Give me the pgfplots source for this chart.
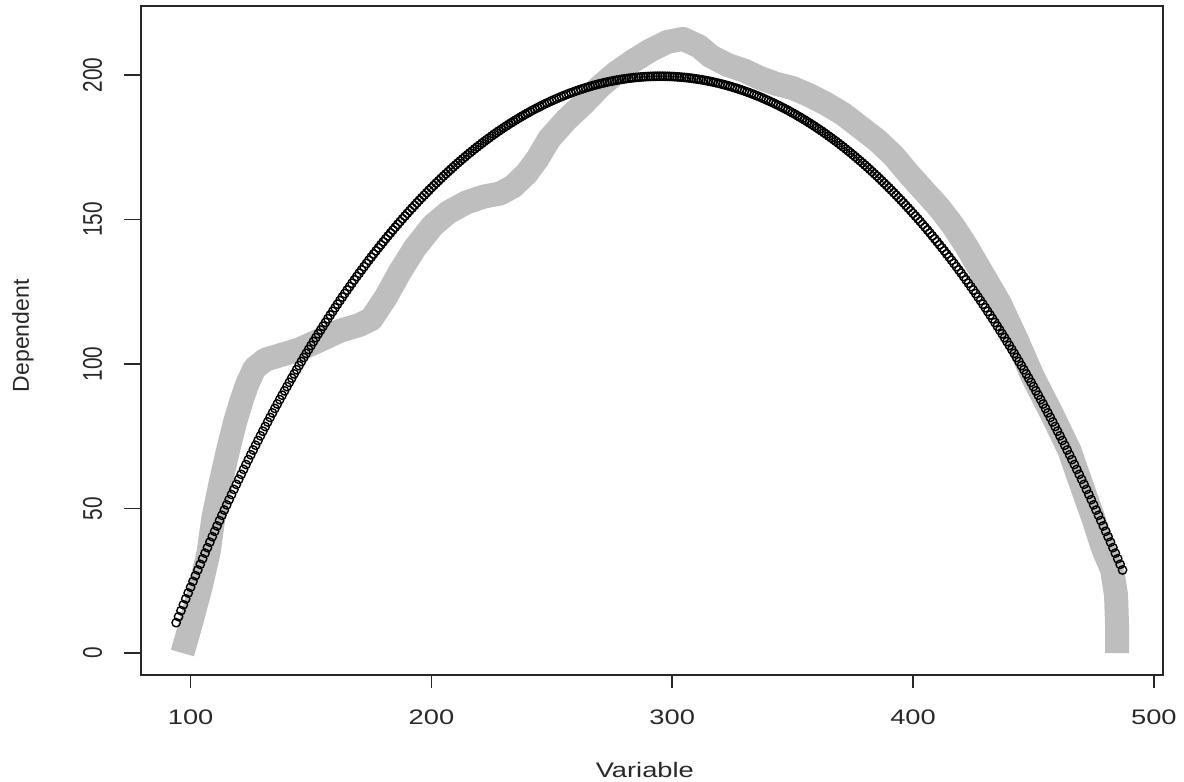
\documentclass[border=0pt]{standalone}
\usepackage{fontspec}
\setmainfont{Liberation Sans}
\newfontfamily\wide{Liberation Sans}[FakeStretch=1.3]
\newfontfamily\narrowf{Liberation Sans}[FakeStretch=0.77]
\usepackage{pgfplots}
\pgfplotsset{compat=1.18}
\definecolor{band}{RGB}{190,190,190}
\definecolor{axc}{RGB}{40,40,40}
\begin{document}
\begin{tikzpicture}
\begin{axis}[
 name=ax, scale only axis, width=511pt, height=334.5pt,
 xmin=79.4, xmax=503.8, ymin=-7.6, ymax=223.9,
 axis line style={axc, line width=0.8pt},
 xtick={100,200,300,400,500}, ytick={0,50,100,150,200},
 tick align=outside, xtick pos=bottom, ytick pos=left,
 xtick style={axc, line width=0.8pt, /pgfplots/major tick length=6.5pt},
 ytick style={axc, line width=0.8pt, /pgfplots/major tick length=8.5pt},
 /pgf/number format/assume math mode=true,
 xticklabel style={font=\wide\fontsize{10.5}{12}\selectfont, text=axc, anchor=north, inner sep=0pt},
 xticklabel shift=12.75pt,
 yticklabel style={font=\narrowf\fontsize{13.5}{14}\selectfont, text=axc, rotate=90, anchor=south, inner sep=0pt},
 yticklabel shift=15pt,
 xlabel={Variable}, ylabel={Dependent},
 every axis x label/.style={at={(axis description cs:0.493,-0.142)}, anchor=center, font=\wide\fontsize{10.5}{12}\selectfont, text=axc},
 every axis y label/.style={at={(axis description cs:-0.1155,0.507)}, rotate=90, anchor=center, font=\fontsize{11.5}{13}\selectfont, text=axc},
]
\addplot[color=band, line width=12pt, line join=round, no markers] coordinates {
(96.6,0) (100.5,11.4) (104.5,24) (107.5,35) (109.5,47) (112.5,59) (115.5,70) (118.5,80) (121,87) (123.5,93) (126.5,98.5) (131,101.5) (137,103) (145,105) (153,108) (162,111.5) (170,113.5) (175,115.5) (181,123) (187,132) (193,140) (200.6,148) (207,152.5) (214.7,156) (222,158) (228.5,159) (234,161.5) (239.6,166) (244,171) (249,178) (256,184.5) (263,190) (270,196) (277,201) (284,205) (290.8,208.5) (298,211.5) (304.5,212.5) (311,210) (316,206.5) (323,203.5) (330,201.5) (336.4,199) (343,197) (350,195.5) (357,193) (364,190) (371,186.5) (378,182) (385,177.5) (392,172) (398,166) (405,159.5) (411,154) (416.5,148) (422,141) (429,131) (436,121) (443,108.5) (449.8,95.5) (457.5,83) (465,70) (470,58) (474.7,47) (479,36) (482.7,28.7) (484.3,20) (484.7,10) (484.7,0)
};
\addplot[only marks, mark=o, mark size=2.1pt, mark options={line width=0.7pt, draw=black}] coordinates {
(94,10.51) (95,12.59) (96,14.66) (97,16.71) (98,18.75) (99,20.78) (100,22.79) (101,24.79) (102,26.77) (103,28.74) (104,30.69) (105,32.63) (106,34.56) (107,36.47) (108,38.37) (109,40.26) (110,42.13) (111,43.99) (112,45.83) (113,47.66) (114,49.48) (115,51.28) (116,53.07) (117,54.85) (118,56.62) (119,58.37) (120,60.11) (121,61.83) (122,63.54) (123,65.24) (124,66.93) (125,68.60) (126,70.26) (127,71.91) (128,73.55) (129,75.17) (130,76.78) (131,78.38) (132,79.96) (133,81.54) (134,83.10) (135,84.64)
(136,86.18) (137,87.70) (138,89.22) (139,90.72) (140,92.20) (141,93.68) (142,95.14) (143,96.59) (144,98.03) (145,99.46) (146,100.88) (147,102.28) (148,103.67) (149,105.05) (150,106.42) (151,107.78) (152,109.13) (153,110.46) (154,111.78) (155,113.10) (156,114.40) (157,115.69) (158,116.96) (159,118.23) (160,119.49) (161,120.73) (162,121.96) (163,123.19) (164,124.40) (165,125.60) (166,126.79) (167,127.97) (168,129.13) (169,130.29) (170,131.44) (171,132.57) (172,133.70) (173,134.81) (174,135.91) (175,137.01) (176,138.09) (177,139.16) (178,140.22) (179,141.27) (180,142.31) (181,143.34) (182,144.36) (183,145.37) (184,146.37) (185,147.36) (186,148.34) (187,149.31) (188,150.27) (189,151.22) (190,152.15) (191,153.08) (192,154.00) (193,154.91) (194,155.81) (195,156.70) (196,157.58) (197,158.44) (198,159.30) (199,160.15) (200,160.99)
(201,161.82) (202,162.64) (203,163.45) (204,164.25) (205,165.05) (206,165.83) (207,166.60) (208,167.36) (209,168.12) (210,168.86) (211,169.59) (212,170.32) (213,171.03) (214,171.74) (215,172.44) (216,173.13) (217,173.80) (218,174.47) (219,175.13) (220,175.78) (221,176.42) (222,177.06) (223,177.68) (224,178.29) (225,178.90) (226,179.49) (227,180.08) (228,180.66) (229,181.23) (230,181.79) (231,182.34) (232,182.88) (233,183.41) (234,183.94) (235,184.45) (236,184.96) (237,185.45) (238,185.94) (239,186.42) (240,186.89) (241,187.35) (242,187.81) (243,188.25) (244,188.69) (245,189.11) (246,189.53) (247,189.94) (248,190.34) (249,190.74) (250,191.12) (251,191.49) (252,191.86) (253,192.22) (254,192.57) (255,192.91) (256,193.24) (257,193.56) (258,193.88) (259,194.18) (260,194.48) (261,194.77) (262,195.05) (263,195.32) (264,195.59) (265,195.84) (266,196.09) (267,196.33) (268,196.56) (269,196.78) (270,196.99) (271,197.20) (272,197.39) (273,197.58) (274,197.76) (275,197.93) (276,198.10) (277,198.25) (278,198.40) (279,198.53) (280,198.66) (281,198.78) (282,198.90) (283,199.00) (284,199.10) (285,199.18) (286,199.26) (287,199.33) (288,199.40) (289,199.45) (290,199.50) (291,199.53) (292,199.56) (293,199.58) (294,199.60) (295,199.60)
(296,199.60) (297,199.58) (298,199.56) (299,199.53) (300,199.50) (301,199.45) (302,199.40) (303,199.33) (304,199.26) (305,199.18) (306,199.10) (307,199.00) (308,198.90) (309,198.78) (310,198.66) (311,198.53) (312,198.40) (313,198.25) (314,198.10) (315,197.93) (316,197.76) (317,197.58) (318,197.39) (319,197.20) (320,196.99) (321,196.78) (322,196.56) (323,196.33) (324,196.09) (325,195.84) (326,195.59) (327,195.32) (328,195.05) (329,194.77) (330,194.48) (331,194.18) (332,193.88) (333,193.56) (334,193.24) (335,192.91) (336,192.57) (337,192.22) (338,191.86) (339,191.49) (340,191.12) (341,190.74) (342,190.34) (343,189.94) (344,189.53) (345,189.11) (346,188.69) (347,188.25) (348,187.81) (349,187.35) (350,186.89) (351,186.42) (352,185.94) (353,185.45) (354,184.96) (355,184.45) (356,183.94) (357,183.41) (358,182.88) (359,182.34) (360,181.79) (361,181.23) (362,180.66) (363,180.08) (364,179.49) (365,178.90) (366,178.29) (367,177.68) (368,177.06) (369,176.42) (370,175.78) (371,175.13) (372,174.47) (373,173.80) (374,173.13) (375,172.44) (376,171.74) (377,171.03) (378,170.32) (379,169.59) (380,168.86) (381,168.12) (382,167.36) (383,166.60) (384,165.83) (385,165.05) (386,164.25) (387,163.45) (388,162.64) (389,161.82) (390,160.99)
(391,160.15) (392,159.30) (393,158.44) (394,157.58) (395,156.70) (396,155.81) (397,154.91) (398,154.00) (399,153.08) (400,152.15) (401,151.22) (402,150.27) (403,149.31) (404,148.34) (405,147.36) (406,146.37) (407,145.37) (408,144.36) (409,143.34) (410,142.31) (411,141.27) (412,140.22) (413,139.16) (414,138.09) (415,137.01) (416,135.91) (417,134.81) (418,133.70) (419,132.57) (420,131.44) (421,130.29) (422,129.13) (423,127.97) (424,126.79) (425,125.60) (426,124.40) (427,123.19) (428,121.96) (429,120.73) (430,119.49) (431,118.23) (432,116.96) (433,115.69) (434,114.40) (435,113.10) (436,111.78) (437,110.46) (438,109.13) (439,107.78) (440,106.42) (441,105.05) (442,103.67) (443,102.28) (444,100.88) (445,99.46) (446,98.03) (447,96.59) (448,95.14) (449,93.68) (450,92.20) (451,90.72) (452,89.22) (453,87.70) (454,86.18)
(455,84.64) (456,83.10) (457,81.54) (458,79.96) (459,78.38) (460,76.78) (461,75.17) (462,73.55) (463,71.91) (464,70.26) (465,68.60) (466,66.93) (467,65.24) (468,63.54) (469,61.83) (470,60.11) (471,58.37) (472,56.62) (473,54.85) (474,53.07) (475,51.28) (476,49.48) (477,47.66) (478,45.83) (479,43.99) (480,42.13) (481,40.26) (482,38.37) (483,36.47) (484,34.56) (485,32.63) (486,30.69) (487,28.74)
};
\end{axis}
\pgfresetboundingbox
\path (ax.south west) ++(-70.5pt,-53.5pt) rectangle ++(592pt,391pt);
\end{tikzpicture}
\end{document}
